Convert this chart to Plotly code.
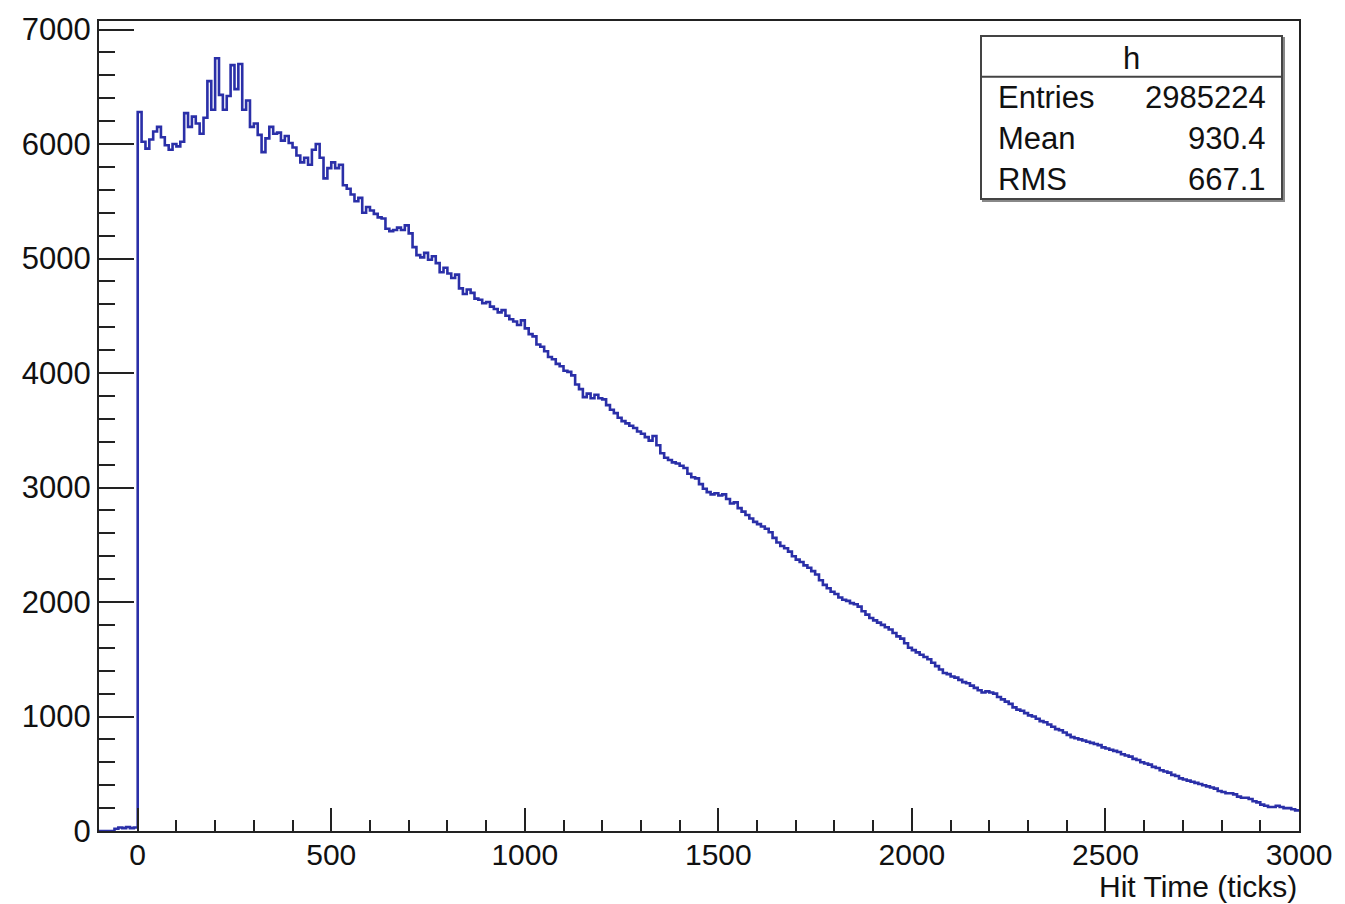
import plotly.graph_objects as go

# ---------------- data ----------------
BIN_START = -100   # low edge of first bin (ticks)
BIN_WIDTH = 10     # bin width (ticks)

counts_neg = [0, 0, 0, 0, 20, 30, 25, 35, 25, 30]            # -100 .. 0
counts_0000 = [6280, 6020, 5960, 6040, 6110, 6150, 6060, 5990, 5950, 6000]
counts_0100 = [5980, 6020, 6270, 6150, 6240, 6180, 6090, 6230, 6550, 6300]
counts_0200 = [6750, 6430, 6300, 6420, 6690, 6480, 6700, 6300, 6380, 6150]
counts_0300 = [6180, 6080, 5930, 6050, 6150, 6090, 6100, 6030, 6070, 6010]
counts_0400 = [5970, 5900, 5840, 5880, 5820, 5950, 6000, 5880, 5700, 5790]
counts_0500 = [5840, 5790, 5820, 5640, 5610, 5560, 5500, 5530, 5400, 5450]
counts_0600 = [5420, 5390, 5360, 5350, 5260, 5240, 5250, 5270, 5250, 5290]
counts_0700 = [5220, 5100, 5030, 5010, 5050, 4990, 5020, 4960, 4880, 4920]
counts_0800 = [4870, 4830, 4860, 4740, 4690, 4730, 4700, 4650, 4640, 4610]
counts_0900 = [4620, 4580, 4560, 4530, 4550, 4500, 4470, 4450, 4420, 4460]
counts_1000 = [4390, 4340, 4320, 4250, 4230, 4190, 4140, 4120, 4080, 4060]
counts_1100 = [4020, 4010, 3980, 3900, 3860, 3790, 3820, 3780, 3810, 3780]
counts_1200 = [3770, 3720, 3680, 3650, 3610, 3580, 3560, 3540, 3520, 3490]
counts_1300 = [3470, 3440, 3410, 3450, 3370, 3300, 3260, 3240, 3220, 3210]
counts_1400 = [3190, 3170, 3120, 3090, 3080, 3030, 2990, 2960, 2940, 2950]
counts_1500 = [2930, 2940, 2900, 2860, 2870, 2820, 2790, 2760, 2730, 2700]
counts_1600 = [2680, 2660, 2640, 2610, 2560, 2520, 2490, 2470, 2440, 2400]
counts_1700 = [2370, 2350, 2320, 2300, 2270, 2240, 2190, 2150, 2120, 2090]
counts_1800 = [2070, 2040, 2020, 2010, 1990, 1980, 1960, 1920, 1890, 1860]
counts_1900 = [1840, 1820, 1800, 1780, 1760, 1730, 1700, 1680, 1640, 1600]
counts_2000 = [1580, 1560, 1540, 1520, 1500, 1470, 1440, 1410, 1380, 1370]
counts_2100 = [1350, 1340, 1320, 1300, 1290, 1270, 1250, 1230, 1210, 1220]
counts_2200 = [1210, 1200, 1170, 1150, 1130, 1110, 1080, 1060, 1050, 1030]
counts_2300 = [1010, 1000, 980, 960, 950, 930, 910, 890, 880, 860]
counts_2400 = [840, 820, 810, 800, 790, 780, 770, 760, 750, 730]
counts_2500 = [720, 710, 700, 690, 670, 660, 650, 630, 620, 600]
counts_2600 = [590, 580, 560, 550, 530, 520, 510, 490, 480, 460]
counts_2700 = [450, 440, 430, 420, 410, 400, 390, 380, 370, 350]
counts_2800 = [340, 330, 330, 320, 300, 290, 290, 280, 260, 250]
counts_2900 = [230, 220, 210, 210, 220, 210, 200, 200, 190, 180]

x_tick_vals = [0, 500, 1000, 1500, 2000, 2500, 3000]
y_tick_vals = [0, 1000, 2000, 3000, 4000, 5000, 6000, 7000]

stats_title = "h"
stats_labels = ["Entries", "Mean", "RMS"]
stats_values = ["2985224", "930.4", "667.1"]
x_title = "Hit Time (ticks)"

counts = (counts_neg + counts_0000 + counts_0100 + counts_0200 + counts_0300 +
          counts_0400 + counts_0500 + counts_0600 + counts_0700 + counts_0800 +
          counts_0900 + counts_1000 + counts_1100 + counts_1200 + counts_1300 +
          counts_1400 + counts_1500 + counts_1600 + counts_1700 + counts_1800 +
          counts_1900 + counts_2000 + counts_2100 + counts_2200 + counts_2300 +
          counts_2400 + counts_2500 + counts_2600 + counts_2700 + counts_2800 +
          counts_2900)

edges = [BIN_START + BIN_WIDTH * i for i in range(len(counts) + 1)]
xs = edges[:-1] + [edges[-1]]
ys = counts + [counts[-1]]

# ---------------- layout geometry ----------------
W, H = 1345, 904
L, R, T, B = 99, 46, 16, 73
PW, PH = W - L - R, H - T - B

def px(xp):
    return (xp - L) / PW

def py(yp):
    return 1 - (yp - T) / PH

FONT = "Liberation Sans, Arial, Helvetica, sans-serif"
AX = "#222222"

fig = go.Figure()
fig.add_trace(go.Scatter(
    x=xs, y=ys, mode="lines", line_shape="hv",
    line=dict(color="#2a2fa8", width=2.6), hoverinfo="skip", showlegend=False))

fig.update_layout(
    width=W, height=H,
    margin=dict(l=L, r=R, t=T, b=B, pad=0),
    paper_bgcolor="white", plot_bgcolor="white",
    font=dict(family=FONT, size=31, color="#111111"),
    showlegend=False,
)
fig.update_xaxes(
    range=[-100, 3000], tickmode="array", tickvals=x_tick_vals,
    ticktext=[str(v) for v in x_tick_vals],
    ticks="inside", ticklen=23, tickwidth=2, tickcolor=AX,
    minor=dict(dtick=100, tick0=0, ticks="inside", ticklen=11, tickwidth=2, tickcolor=AX),
    showline=True, linecolor=AX, linewidth=2, mirror=True,
    showgrid=False, zeroline=False,
    tickfont=dict(size=30), ticklabelstandoff=-4,
)
fig.update_yaxes(
    range=[0, 7075], tickmode="array", tickvals=y_tick_vals,
    ticktext=[str(v) for v in y_tick_vals],
    ticks="inside", ticklen=35, tickwidth=2, tickcolor=AX,
    minor=dict(dtick=200, tick0=0, ticks="inside", ticklen=16, tickwidth=2, tickcolor=AX),
    showline=True, linecolor=AX, linewidth=2, mirror=True,
    showgrid=False, zeroline=False,
    tickfont=dict(size=31), ticklabelstandoff=0,
)

# x-axis title (right aligned, ROOT style)
fig.add_annotation(xref="paper", yref="paper", x=px(1299), y=py(887),
                   text=x_title, showarrow=False, xanchor="right", yanchor="middle",
                   font=dict(size=30, color="#111111"))

# stats box
bx0, by0, bx1, by1 = 981, 31, 1282, 195
fig.add_shape(type="rect", xref="paper", yref="paper",
              x0=px(bx0 + 2), y0=py(by1 + 2), x1=px(bx1 + 2), y1=py(by0 + 2),
              line=dict(color="#888888", width=2), fillcolor="#888888", layer="above")
fig.add_shape(type="rect", xref="paper", yref="paper",
              x0=px(bx0), y0=py(by1), x1=px(bx1), y1=py(by0),
              line=dict(color="#444444", width=2), fillcolor="white", layer="above")
fig.add_shape(type="line", xref="paper", yref="paper",
              x0=px(bx0), y0=py(72), x1=px(bx1), y1=py(72),
              line=dict(color="#444444", width=2), layer="above")
fig.add_annotation(xref="paper", yref="paper", x=px(1131), y=py(54),
                   text=stats_title, showarrow=False, xanchor="center", yanchor="middle",
                   font=dict(size=31, color="#111111"))
row_y = [93, 134, 175]
for lab, val, yy in zip(stats_labels, stats_values, row_y):
    fig.add_annotation(xref="paper", yref="paper", x=px(996), y=py(yy),
                       text=lab, showarrow=False, xanchor="left", yanchor="middle",
                       font=dict(size=31, color="#111111"))
    fig.add_annotation(xref="paper", yref="paper", x=px(1268), y=py(yy),
                       text=val, showarrow=False, xanchor="right", yanchor="middle",
                       font=dict(size=31, color="#111111"))

fig.write_html("out.html")
